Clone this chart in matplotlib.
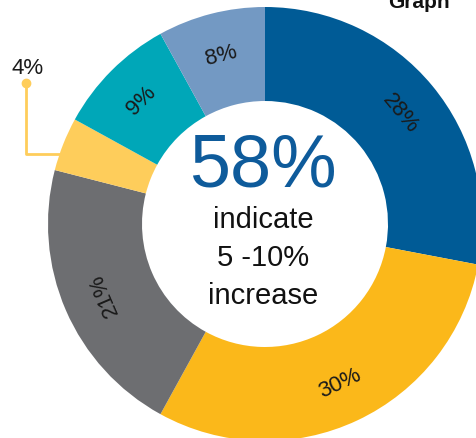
import matplotlib
matplotlib.use("Agg")
import matplotlib.pyplot as plt
import numpy as np

# Share of respondents by expected change
segments = ["28%", "30%", "21%", "4%", "9%", "8%"]
values = [28, 30, 21, 4, 9, 8]
colors = ["#005b96", "#fbb81a", "#6d6e71", "#fecd5b", "#00a7b8", "#7399c3"]
headline = "58%"
headline_text = ["indicate", "5 -10%", "increase"]

W, H = 476, 439
fig = plt.figure(figsize=(W / 100, H / 100), dpi=100)
ax = fig.add_axes([0, 0, 1, 1])

cx, cy = 265, H - 225
R, ring = 217, 94

wedges, _ = ax.pie(values, colors=colors, startangle=90, counterclock=False,
                   center=(cx, cy), radius=R, frame=True,
                   wedgeprops=dict(width=ring, linewidth=0))
ax.set_xlim(0, W)
ax.set_ylim(0, H)
ax.set_aspect("equal")
ax.axis("off")

font = "Liberation Sans"
label_r = 175
for w, lab in zip(wedges, segments):
    if lab == "4%":
        continue
    mid = ((w.theta1 + w.theta2) / 2) % 360
    t = np.deg2rad(mid)
    x, y = cx + label_r * np.cos(t), cy + label_r * np.sin(t)
    rot = (mid - 90 + 180) % 360 - 180
    if rot < -90:
        rot += 180
    ax.text(x, y, lab, rotation=rot, ha="center", va="center",
            fontsize=16, color="#1a1a1a", family=font, rotation_mode="anchor")

# Leader for the small slice
lc = "#fecd5b"
ax.plot([26, 26, 60], [H - 84, H - 155, H - 155], color=lc, lw=2, solid_capstyle="butt")
ax.plot([26], [H - 84], "o", color=lc, ms=6)
ax.text(28, H - 68, "4%", ha="center", va="center", fontsize=16,
        color="#1a1a1a", family=font)

# Centre text
ax.text(263, H - 167, headline, ha="center", va="center", fontsize=53,
        color="#0e5b9b", family=font)
for i, line in enumerate(headline_text):
    ax.text(263, H - 220 - 38 * i, line, ha="center", va="center", fontsize=21,
            color="#111111", family=font)

fig.text(388 / W, 1 - 8 / H, "Graph", ha="left", va="baseline", fontsize=15,
         fontweight="bold", color="#111111", family=font)

fig.savefig("out.png", dpi=100)
